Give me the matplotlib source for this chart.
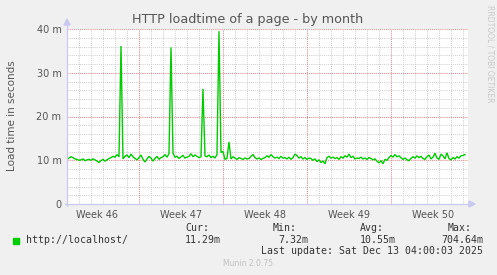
import numpy as np
import matplotlib
matplotlib.use("Agg")
import matplotlib.pyplot as plt

# ---- data ----
title = "HTTP loadtime of a page - by month"
ylabel = "Load time in seconds"
series_name = "http://localhost/"
step_days = 1 / 6  # 4-hour samples
span_days = 33.42
first_week_start = 6.03  # days from left edge to start of Week 47
week_labels = ["Week 46", "Week 47", "Week 48", "Week 49", "Week 50"]
y_ticks = [0, 10, 20, 30, 40]
y_ticklabels = ["0", "10 m", "20 m", "30 m", "40 m"]

load_ms = [
    10.2, 10.5, 10.8, 10.6, 10.3,
    10.2, 10.0, 10.1, 10.3, 9.9, 10.1,
    10.2, 10.0, 10.3, 10.1, 9.8, 9.5,
    9.9, 10.2, 9.8, 10.1, 10.4, 10.6,
    10.9, 10.7, 11.3, 10.8,
    36.1,
    10.3, 10.9, 11.2, 10.6, 11.4,
    10.8, 10.4, 10.1, 10.6, 11.2, 10.2, 9.6, 10.3,
    10.9, 10.5, 9.8, 10.4, 10.9, 10.2, 10.6,
    10.8, 11.3, 10.7, 11.5,
    35.8,
    11.6, 10.7, 10.9, 10.4, 10.8, 11.1, 10.5, 10.7,
    10.9, 11.5, 10.8, 11.2, 10.9, 10.6, 10.8,
    26.3,
    11.0, 10.8, 11.2, 10.6, 10.9, 10.5, 11.3,
    39.5,
    11.8, 12.0, 10.2, 10.4,
    14.2,
    10.3, 10.8, 10.5, 10.2, 10.6, 10.4, 10.2,
    10.5, 10.3, 10.4, 10.9, 11.3, 10.6, 10.3,
    10.5, 10.2, 10.4, 10.6, 11.0, 10.7,
    11.3, 10.8, 10.5, 10.7, 10.4, 10.9, 10.5,
    10.6, 10.3, 10.7, 10.2, 10.6, 11.4, 11.1,
    10.5, 10.8, 10.3, 10.6, 10.2, 10.5, 10.4,
    10.0, 10.3, 9.7, 10.1, 9.5, 9.8, 9.2,
    10.6, 10.9, 10.5, 10.7, 10.4,
    10.6, 10.2, 10.8, 10.5, 11.0, 10.7, 11.4,
    10.6, 10.9, 10.3, 10.5, 10.4, 10.7, 10.3,
    10.5, 10.2, 10.6, 10.4, 10.1, 10.3, 9.8,
    9.4, 9.9, 9.2, 10.2, 10.0, 10.6, 11.1,
    10.7, 11.3, 10.8, 11.0, 10.6, 10.2, 10.5,
    10.1, 9.9, 10.4, 10.8, 10.5, 11.0, 10.6,
    10.9, 10.4, 10.2, 10.8, 11.2, 10.3, 10.7,
    11.6, 10.5, 10.2, 11.4, 11.0, 10.3, 11.7,
    10.4, 10.1, 10.6, 10.3, 10.8, 10.5, 11.0,
    11.1, 11.3,
]
stat_headers = ["Cur:", "Min:", "Avg:", "Max:"]
stat_values = ["11.29m", "7.32m", "10.55m", "704.64m"]
last_update = "Last update: Sat Dec 13 04:00:03 2025"
footer = "Munin 2.0.75"
watermark = "RRDTOOL / TOBI OETIKER"

# ---- figure ----
W, H = 497, 275
fig = plt.figure(figsize=(W / 100, H / 100), dpi=100, facecolor="#F0F0F0")
L, R, T, B = 67, 468, 29, 204
ax = fig.add_axes([L / W, 1 - B / H, (R - L) / W, (B - T) / H])
ax.set_facecolor("white")

def px(x, y):
    return x / W, 1 - y / H

t = np.arange(len(load_ms)) * step_days
ax.set_xlim(0, span_days)
ax.set_ylim(0, 40)

# grid
minor_c = "#D2D2D2"
major_c = "#E08A8A"
dot = (0, (1, 1))
gkw = dict(lw=0.75, ls=dot)
week_bounds = np.arange(first_week_start, span_days, 7)
for d in np.arange(0.03, span_days, 1.0):
    if np.min(np.abs(week_bounds - d)) > 0.1:
        ax.axvline(d, color=minor_c, zorder=1, **gkw)
for y in np.arange(2, 41, 2):
    if y % 10:
        ax.axhline(y, color=minor_c, zorder=1, **gkw)
for d in week_bounds:
    ax.axvline(d, color=major_c, zorder=2, **gkw)
for y in y_ticks[1:]:
    ax.axhline(y, color=major_c, zorder=2, **gkw)

ax.plot(t, load_ms, color="#00CC00", lw=1.0, zorder=3, solid_joinstyle="miter")

for s in ax.spines.values():
    s.set_visible(False)
ax.tick_params(length=0, pad=4, labelsize=7, colors="#555555")
ax.set_yticks(y_ticks)
ax.set_yticklabels(y_ticklabels)
ax.set_xticks(list(week_bounds - 3.5) + [week_bounds[-1] + 3.5])
ax.set_xticklabels(week_labels)

# axis lines with arrows
axis_c = "#C8C8F0"
fig.add_artist(plt.Line2D([L / W, L / W], [1 - (B + 2) / H, 1 - 24 / H], color=axis_c, lw=0.9))
fig.add_artist(plt.Line2D([(L - 2) / W, 471 / W], [1 - B / H, 1 - B / H], color=axis_c, lw=0.9))
fig.add_artist(plt.Polygon([px(L - 3, 25), px(L + 3, 25), px(L, 19)], closed=True, color=axis_c))
fig.add_artist(plt.Polygon([px(469, B - 3), px(469, B + 3), px(475, B)], closed=True, color=axis_c))

tc = "#555555"
fig.text(*px(248, 19), title, ha="center", va="center", fontsize=9.2, color=tc)
fig.text(*px(12, 116), ylabel, ha="center", va="center", rotation=90, fontsize=7.5, color=tc)
fig.text(*px(490, 5), watermark, ha="center", va="top", rotation=270, fontsize=5.5, color="#C8C8C8")

mono = "DejaVu Sans Mono"
fs = 7.1
mc = "#333333"
fig.add_artist(plt.Rectangle(px(13, 244), 6 / W, 6 / H, color="#00CC00"))
fig.text(*px(26, 240), series_name, ha="left", va="center", family=mono, fontsize=fs, color=mc)
hdr_x = [185, 273, 360, 448]
val_right = [221, 308, 396, 483]
for x, h in zip(hdr_x, stat_headers):
    fig.text(*px(x, 228), h, ha="left", va="center", family=mono, fontsize=fs, color=mc)
for x, v in zip(val_right, stat_values):
    fig.text(*px(x, 240), v, ha="right", va="center", family=mono, fontsize=fs, color=mc)
fig.text(*px(483, 251.5), last_update, ha="right", va="center", family=mono, fontsize=fs, color=mc)
fig.text(*px(248, 264), footer, ha="center", va="center", fontsize=5.5, color="#C0C0C0")

fig.savefig("out.png", dpi=100, facecolor=fig.get_facecolor())
